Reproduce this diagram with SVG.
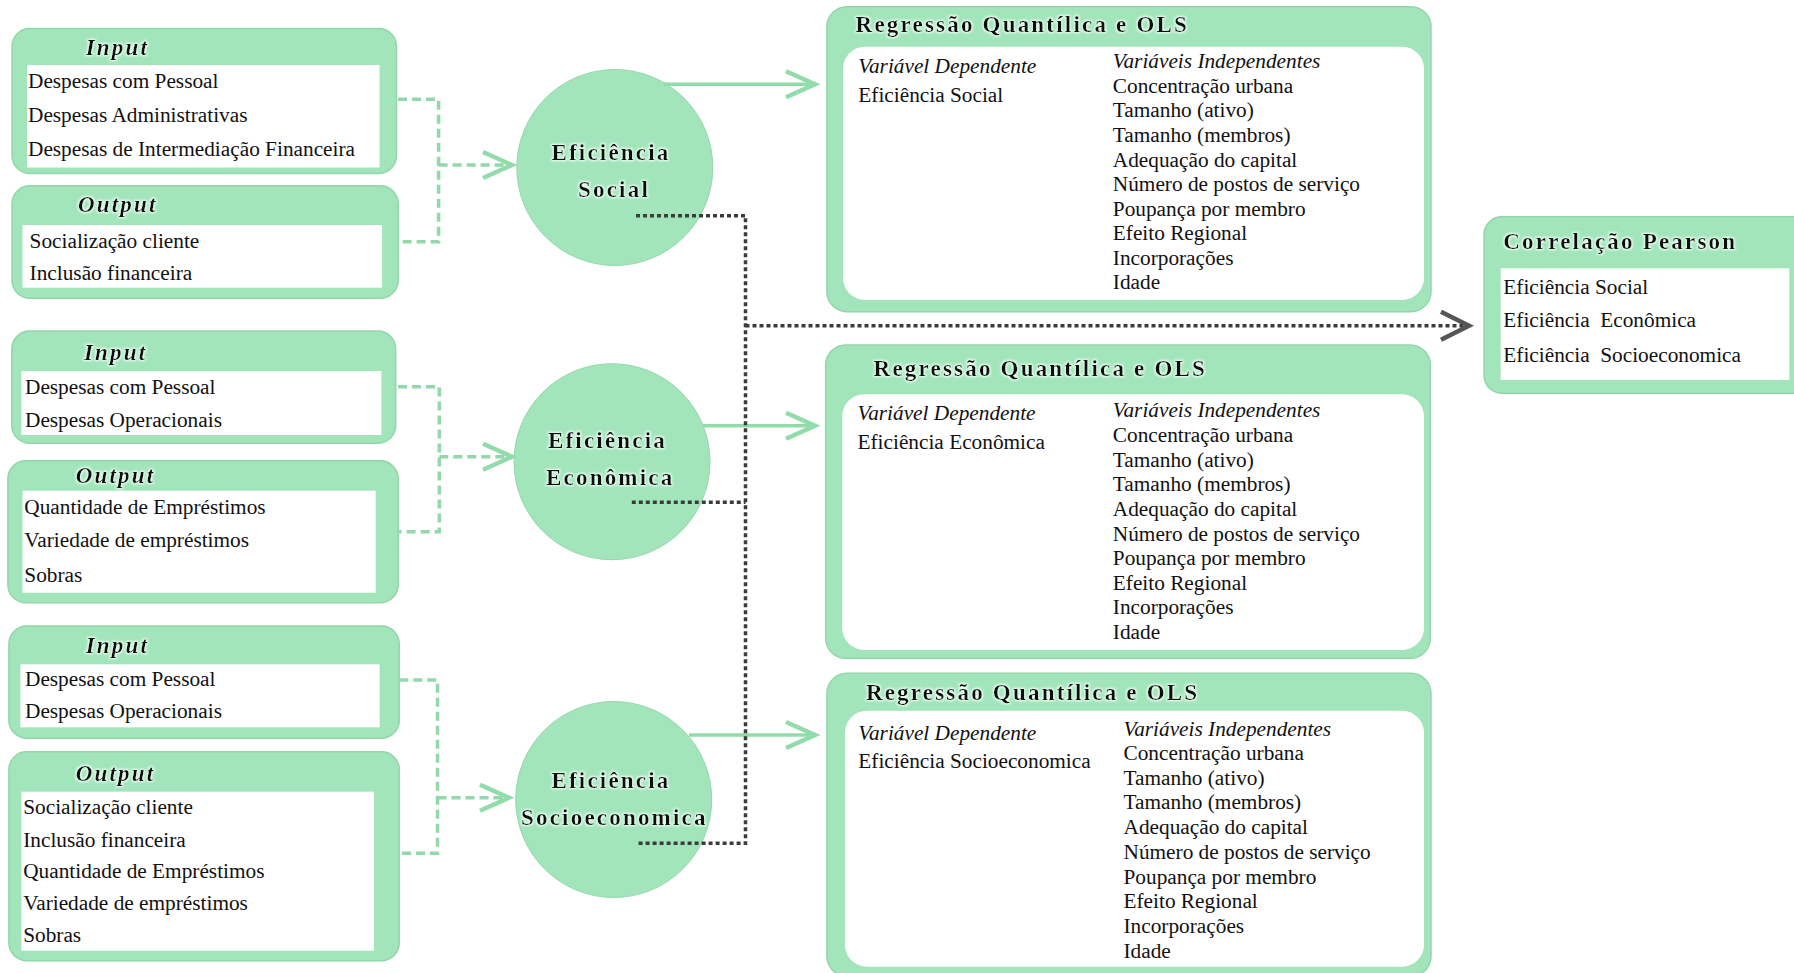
<svg xmlns="http://www.w3.org/2000/svg" width="1794" height="973" viewBox="0 0 1794 973">
<defs>
<style>
.box{fill:#a2e5bb;stroke:#92d6aa;stroke-width:1.5}
.wh{fill:#ffffff}
.circ{fill:#a2e5bb;stroke:#94d8ac;stroke-width:1}
.t{font-family:"Liberation Serif","Times New Roman",serif;font-size:21.3px;fill:#111}
.it{font-style:italic}
.h{font-family:"Liberation Serif","Times New Roman",serif;font-size:23px;font-weight:bold;letter-spacing:2.2px;fill:#111}
.hi{font-style:italic}
.pre{white-space:pre}
.dash{fill:none;stroke:#92d8ab;stroke-width:3.5;stroke-dasharray:9 5}
.solid{fill:none;stroke:#92dcab;stroke-width:3.5}
.dot{fill:none;stroke:#3c3c3c;stroke-width:3.5;stroke-dasharray:4 3}
</style>
<filter id="glow" x="-10%" y="-40%" width="120%" height="180%">
<feMorphology in="SourceAlpha" operator="dilate" radius="1.2" result="d"/>
<feGaussianBlur in="d" stdDeviation="1.3" result="b"/>
<feFlood flood-color="#eefff3"/>
<feComposite in2="b" operator="in" result="g"/>
<feMerge><feMergeNode in="g"/><feMergeNode in="SourceGraphic"/></feMerge>
</filter>
<marker id="ag" markerUnits="userSpaceOnUse" markerWidth="40" markerHeight="40" refX="29" refY="13" orient="auto" overflow="visible">
<path d="M0,0 L29,13 L0,26" fill="none" stroke="#92dcab" stroke-width="4.5"/>
</marker>
<marker id="ad" markerUnits="userSpaceOnUse" markerWidth="40" markerHeight="40" refX="28" refY="14" orient="auto" overflow="visible">
<path d="M0,0 L28,14 L0,28" fill="none" stroke="#555" stroke-width="4.5"/>
</marker>
</defs>
<rect width="1794" height="973" fill="#ffffff"/>

<!-- Group 1 -->
<g id="input1">
<rect class="box" x="12" y="28.5" width="384.5" height="145" rx="18"/>
<rect class="wh" x="27" y="65" width="352.5" height="102.5"/>
<text class="h hi" x="85.7" y="55" filter="url(#glow)">Input</text>
<text class="t" x="28" y="88.3">Despesas com Pessoal</text>
<text class="t" x="28" y="121.7">Despesas Administrativas</text>
<text class="t" x="28" y="156">Despesas de Intermediação Financeira</text>
</g>
<g id="output1">
<rect class="box" x="12" y="185.7" width="386.2" height="112.6" rx="18"/>
<rect class="wh" x="22.5" y="225" width="359.6" height="62.7"/>
<text class="h hi" x="77.9" y="211.7" filter="url(#glow)">Output</text>
<text class="t" x="29.6" y="248.3">Socialização cliente</text>
<text class="t" x="29.6" y="280">Inclusão financeira</text>
</g>
<g id="eficiencia-social">
<circle class="circ" cx="614.8" cy="167.5" r="98"/>
<text class="h" x="551.4" y="160" filter="url(#glow)">Eficiência</text>
<text class="h" x="578" y="196.7" filter="url(#glow)">Social</text>
</g>

<!-- Group 2 -->
<g id="input2">
<rect class="box" x="11.8" y="331" width="383.9" height="112.3" rx="18"/>
<rect class="wh" x="21.4" y="371" width="360" height="64"/>
<text class="h hi" x="83.9" y="360" filter="url(#glow)">Input</text>
<text class="t" x="25" y="394">Despesas com Pessoal</text>
<text class="t" x="25" y="426.7">Despesas Operacionais</text>
</g>
<g id="output2">
<rect class="box" x="7.9" y="460.7" width="390.3" height="142" rx="18"/>
<rect class="wh" x="22.5" y="490.7" width="353.2" height="102"/>
<text class="h hi" x="75.7" y="483.3" filter="url(#glow)">Output</text>
<text class="t" x="24.3" y="514.3">Quantidade de Empréstimos</text>
<text class="t" x="24.3" y="547.3">Variedade de empréstimos</text>
<text class="t" x="24.3" y="581.7">Sobras</text>
</g>
<g id="eficiencia-economica">
<circle class="circ" cx="612" cy="461.7" r="98"/>
<text class="h" x="547.9" y="448.3" filter="url(#glow)">Eficiência</text>
<text class="h" x="546" y="485" filter="url(#glow)">Econômica</text>
</g>

<!-- Group 3 -->
<g id="input3">
<rect class="box" x="8.9" y="626" width="390.4" height="112.3" rx="18"/>
<rect class="wh" x="20.4" y="664.3" width="359.2" height="63"/>
<text class="h hi" x="85.7" y="652.7" filter="url(#glow)">Input</text>
<text class="t" x="25" y="686">Despesas com Pessoal</text>
<text class="t" x="25" y="718.3">Despesas Operacionais</text>
</g>
<g id="output3">
<rect class="box" x="8.9" y="751.7" width="390.4" height="209" rx="18"/>
<rect class="wh" x="21.4" y="791.7" width="352.6" height="159"/>
<text class="h hi" x="75.7" y="780.7" filter="url(#glow)">Output</text>
<text class="t" x="23.2" y="814">Socialização cliente</text>
<text class="t" x="23.2" y="846.7">Inclusão financeira</text>
<text class="t" x="23.2" y="878.3">Quantidade de Empréstimos</text>
<text class="t" x="23.2" y="910">Variedade de empréstimos</text>
<text class="t" x="23.2" y="942.3">Sobras</text>
</g>
<g id="eficiencia-socioeconomica">
<circle class="circ" cx="613.7" cy="799.5" r="98"/>
<text class="h" x="551.4" y="788.3" filter="url(#glow)">Eficiência</text>
<text class="h" x="521" y="825" filter="url(#glow)">Socioeconomica</text>
</g>

<!-- Regression boxes -->
<g id="regressao1">
<rect class="box" x="826.9" y="6.7" width="604.1" height="305" rx="20"/>
<rect class="wh" x="843" y="46.7" width="581" height="253.3" rx="22"/>
<text class="h" x="855.6" y="31.7" filter="url(#glow)">Regressão Quantílica e OLS</text>
<text class="t it" x="858.3" y="73.3">Variável Dependente</text>
<text class="t" x="858.3" y="101.7">Eficiência Social</text>
<text class="t it" x="1112.8" y="68.3">Variáveis Independentes</text>
<text class="t" x="1112.8" y="92.7">Concentração urbana</text>
<text class="t" x="1112.8" y="117.3">Tamanho (ativo)</text>
<text class="t" x="1112.8" y="141.7">Tamanho (membros)</text>
<text class="t" x="1112.8" y="166.7">Adequação do capital</text>
<text class="t" x="1112.8" y="191">Número de postos de serviço</text>
<text class="t" x="1112.8" y="216">Poupança por membro</text>
<text class="t" x="1112.8" y="240">Efeito Regional</text>
<text class="t" x="1112.8" y="265">Incorporações</text>
<text class="t" x="1112.8" y="289.3">Idade</text>
</g>
<g id="regressao2">
<rect class="box" x="825.7" y="345" width="604.6" height="313.3" rx="20"/>
<rect class="wh" x="842.2" y="394.3" width="581.8" height="255.7" rx="22"/>
<text class="h" x="873.6" y="375.7" filter="url(#glow)">Regressão Quantílica e OLS</text>
<text class="t it" x="857.5" y="420">Variável Dependente</text>
<text class="t" x="857.5" y="449.3">Eficiência Econômica</text>
<text class="t it" x="1112.8" y="417.3">Variáveis Independentes</text>
<text class="t" x="1112.8" y="441.7">Concentração urbana</text>
<text class="t" x="1112.8" y="466.7">Tamanho (ativo)</text>
<text class="t" x="1112.8" y="491">Tamanho (membros)</text>
<text class="t" x="1112.8" y="516">Adequação do capital</text>
<text class="t" x="1112.8" y="540.7">Número de postos de serviço</text>
<text class="t" x="1112.8" y="565">Poupança por membro</text>
<text class="t" x="1112.8" y="590">Efeito Regional</text>
<text class="t" x="1112.8" y="614.3">Incorporações</text>
<text class="t" x="1112.8" y="639">Idade</text>
</g>
<g id="regressao3">
<rect class="box" x="826.9" y="673.3" width="604.1" height="303" rx="20"/>
<rect class="wh" x="844.9" y="710.7" width="579.1" height="256" rx="22"/>
<text class="h" x="865.9" y="700" filter="url(#glow)">Regressão Quantílica e OLS</text>
<text class="t it" x="858.3" y="740">Variável Dependente</text>
<text class="t" x="858.3" y="768.3">Eficiência Socioeconomica</text>
<text class="t it" x="1123.5" y="736">Variáveis Independentes</text>
<text class="t" x="1123.5" y="760">Concentração urbana</text>
<text class="t" x="1123.5" y="785">Tamanho (ativo)</text>
<text class="t" x="1123.5" y="809.3">Tamanho (membros)</text>
<text class="t" x="1123.5" y="834.3">Adequação do capital</text>
<text class="t" x="1123.5" y="859">Número de postos de serviço</text>
<text class="t" x="1123.5" y="884">Poupança por membro</text>
<text class="t" x="1123.5" y="908.3">Efeito Regional</text>
<text class="t" x="1123.5" y="932.7">Incorporações</text>
<text class="t" x="1123.5" y="957.7">Idade</text>
</g>

<!-- Pearson -->
<g id="correlacao-pearson">
<rect class="box" x="1484" y="216.7" width="330" height="176.6" rx="18"/>
<rect class="wh" x="1500.7" y="268.3" width="288.6" height="111.7"/>
<text class="h" x="1503.3" y="249.3" filter="url(#glow)">Correlação Pearson</text>
<text class="t pre" x="1503.3" y="294">Eficiência Social</text>
<text class="t pre" x="1503.3" y="327.3">Eficiência  Econômica</text>
<text class="t pre" x="1503.3" y="361.7">Eficiência  Socioeconomica</text>
</g>

<!-- Connectors -->
<g id="connectors">
<path class="dash" d="M398,99.3 H438.6 V241.7 H398"/>
<path class="dash" d="M438.6,165 H512" marker-end="url(#ag)"/>
<path class="dash" d="M398,386.7 H439.3 V531.7 H398"/>
<path class="dash" d="M439.3,456.7 H512" marker-end="url(#ag)"/>
<path class="dash" d="M399.3,680 H437.5 V853.3 H399.3"/>
<path class="dash" d="M437.5,797.7 H509" marker-end="url(#ag)"/>
<path class="solid" d="M664,84.3 H815" marker-end="url(#ag)"/>
<path class="solid" d="M703,425.7 H815" marker-end="url(#ag)"/>
<path class="solid" d="M689,735 H815" marker-end="url(#ag)"/>
<path class="dot" d="M636,215.7 H745.5 V843.3 H636"/>
<path class="dot" d="M631.8,502.3 H745.5"/>
<path class="dot" d="M745.5,325.7 H1469" marker-end="url(#ad)"/>
</g>
</svg>
